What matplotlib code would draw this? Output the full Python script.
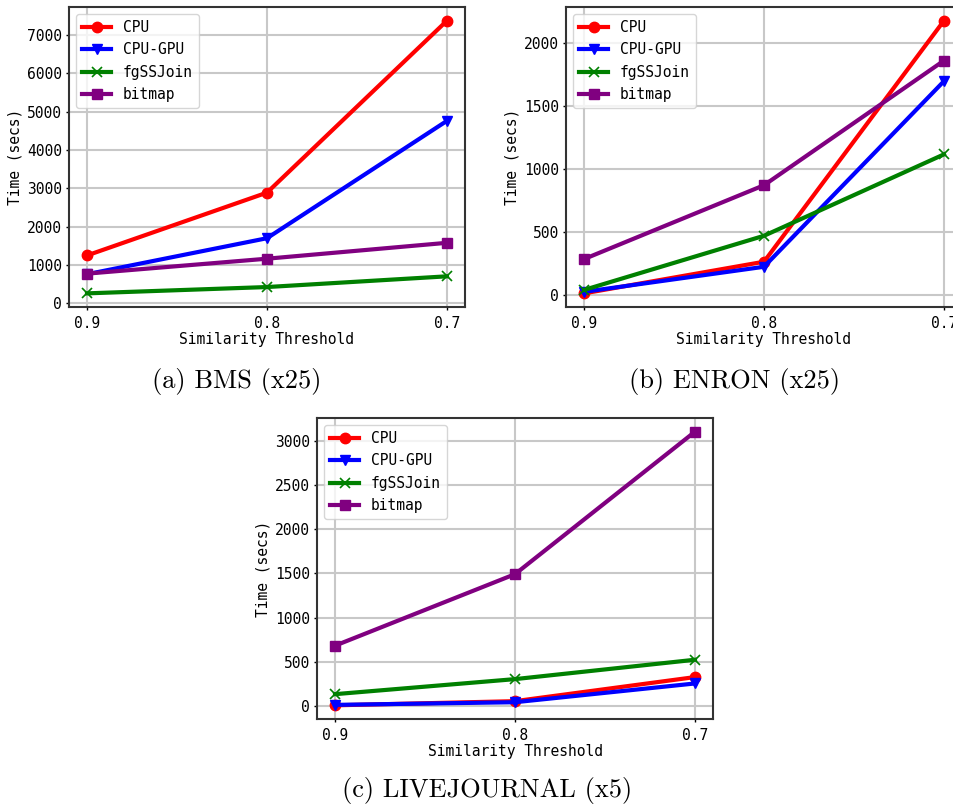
import matplotlib.pyplot as plt

thresholds = ['0.9', '0.8', '0.7']
methods = ['CPU', 'CPU-GPU', 'fgSSJoin', 'bitmap']
colors = ['red', 'blue', 'green', 'purple']
markers = ['o', 'v', 'x', 's']

# (a) BMS (x25)
bms_cpu = [1250, 2890, 7380]
bms_cpugpu = [760, 1700, 4765]
bms_fg = [260, 425, 705]
bms_bitmap = [775, 1165, 1580]

# (b) ENRON (x25)
enron_cpu = [13, 264, 2177]
enron_cpugpu = [25, 224, 1697]
enron_fg = [40, 470, 1116]
enron_bitmap = [285, 871, 1860]

# (c) LIVEJOURNAL (x5)
lj_cpu = [10, 57, 329]
lj_cpugpu = [15, 45, 257]
lj_fg = [136, 306, 525]
lj_bitmap = [684, 1492, 3102]

panels = [
    ('(a) BMS (x25)', [bms_cpu, bms_cpugpu, bms_fg, bms_bitmap]),
    ('(b) ENRON (x25)', [enron_cpu, enron_cpugpu, enron_fg, enron_bitmap]),
    ('(c) LIVEJOURNAL (x5)', [lj_cpu, lj_cpugpu, lj_fg, lj_bitmap]),
]

W, H = 954, 807
fig = plt.figure(figsize=(W / 100, H / 100), dpi=100)

# axes boxes in pixels: left, top, right, bottom
boxes = [(69, 7, 465, 307), (566, 7, 962, 307), (317, 418, 713, 719)]
cap_pos = [(237, 381), (735, 381), (487, 791)]

mono = 'DejaVu Sans Mono'
fs = 10.5

for (title, series), box, cp in zip(panels, boxes, cap_pos):
    l, t, r, b = box
    ax = fig.add_axes([l / W, 1 - b / H, (r - l) / W, (b - t) / H])
    x = range(len(thresholds))
    for name, vals, c, m in zip(methods, series, colors, markers):
        if m == 'x':
            ax.plot(x, vals, color=c, marker=m, lw=3, markersize=7, mew=1.2, label=name)
        else:
            ax.plot(x, vals, color=c, marker=m, lw=3, markersize=7.5, label=name)
    ax.set_xticks(list(x))
    ax.set_xticklabels(thresholds, fontfamily=mono, fontsize=fs)
    for lab in ax.get_yticklabels():
        lab.set_fontfamily(mono)
        lab.set_fontsize(fs)
    ax.tick_params(length=2.5, pad=2.5, width=1)
    ax.tick_params(axis='x', pad=4)
    ax.set_xlabel('Similarity Threshold', fontfamily=mono, fontsize=fs, labelpad=1)
    ax.set_ylabel('Time (secs)', fontfamily=mono, fontsize=fs, labelpad=3)
    ax.grid(True, color='#c8c8c8', lw=1.5)
    ax.set_axisbelow(True)
    for s in ax.spines.values():
        s.set_color('#333333')
        s.set_linewidth(1.5)
    ax.legend(loc='upper left', prop={'family': mono, 'size': fs})
    fig.text(cp[0] / W, 1 - cp[1] / H, title, ha='center', va='center',
             fontfamily='cmr10', fontsize=19)

fig.savefig('out.png', dpi=100)
